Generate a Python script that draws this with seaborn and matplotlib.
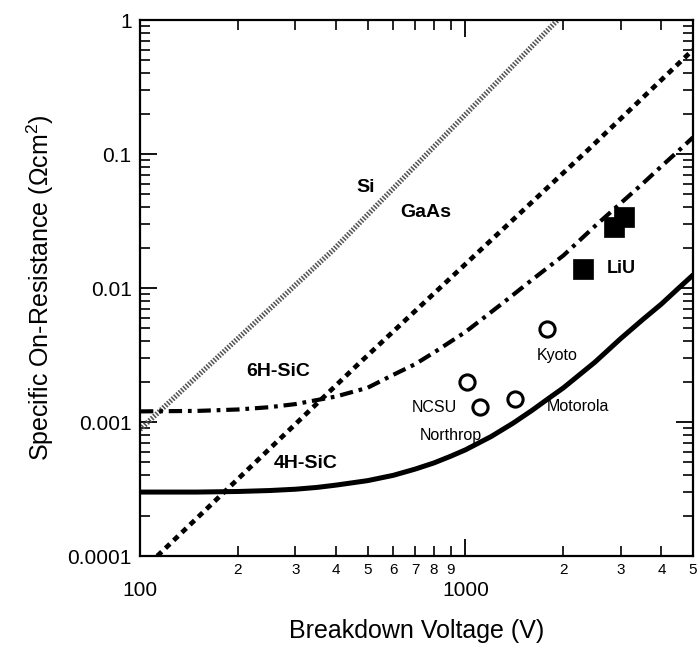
import matplotlib
matplotlib.use("Agg")
import matplotlib.pyplot as plt
import seaborn as sns
import pandas as pd
from matplotlib.ticker import LogLocator, FixedLocator, FixedFormatter, NullFormatter

# ---- data ----
si_v = [100, 392, 1919]
si_r = [0.00088, 0.0192, 1.0]

gaas_v = [113, 465, 1112, 2376, 5000]
gaas_r = [0.0001, 0.00266, 0.0192, 0.107, 0.6]

sic6h_v = [100, 150, 200, 250, 300, 400, 500, 600, 700, 800, 1000, 1300, 1600,
           2000, 2500, 3000, 3500, 4000, 4500, 5000]
sic6h_r = [0.0012, 0.00121, 0.00124, 0.00129, 0.00136, 0.00155, 0.0018, 0.00225,
           0.0027, 0.0033, 0.0047, 0.0077, 0.0115, 0.0175, 0.029, 0.043, 0.06,
           0.081, 0.105, 0.133]

sic4h_v = [100, 150, 200, 250, 300, 350, 400, 500, 600, 700, 800, 900, 1000, 1200,
           1400, 1600, 1800, 2000, 2500, 3000, 3500, 4000, 4500, 5000]
sic4h_r = [0.0003, 0.0003, 0.000303, 0.000308, 0.000315, 0.000325, 0.000338,
           0.000365, 0.0004, 0.000445, 0.000495, 0.000555, 0.00062, 0.00078,
           0.00098, 0.00122, 0.0015, 0.0018, 0.0028, 0.0042, 0.0058, 0.0076,
           0.0099, 0.0125]

circ_names = ["Kyoto", "NCSU", "Northrop", "Motorola"]
circ_v = [1775, 1014, 1112, 1415]
circ_r = [0.00494, 0.00199, 0.00129, 0.00149]

sq_v = [3064, 2853, 2291]
sq_r = [0.0339, 0.0285, 0.0139]

curve_labels = ["Si", "GaAs", "6H-SiC", "4H-SiC"]
curve_label_v = [493, 754, 266, 324]
curve_label_r = [0.0567, 0.0363, 0.0024, 0.00049]

minor_x = [200, 300, 400, 500, 600, 700, 800, 900, 2000, 3000, 4000, 5000]
minor_x_labels = ["2", "3", "4", "5", "6", "7", "8", "9", "2", "3", "4", "5"]
major_x = [100, 1000]
major_x_labels = ["100", "1000"]
major_y = [0.0001, 0.001, 0.01, 0.1, 1]
major_y_labels = ["0.0001", "0.001", "0.01", "0.1", "1"]

sns.set_theme(style="white")
plt.rcParams["font.family"] = ["Liberation Sans", "DejaVu Sans"]
plt.rcParams["mathtext.fontset"] = "custom"
plt.rcParams["mathtext.rm"] = "Liberation Sans"
plt.rcParams["mathtext.it"] = "Liberation Sans"
for k in ["text.color", "axes.labelcolor", "xtick.color", "ytick.color", "axes.edgecolor"]:
    plt.rcParams[k] = "black"

fig = plt.figure(figsize=(6.98, 6.46), dpi=100)
ax = fig.add_axes([140/698, 1-556/646, 553/698, 536/646])

df_si = pd.DataFrame({"V": si_v, "R": si_r})
df_ga = pd.DataFrame({"V": gaas_v, "R": gaas_r})
df_6h = pd.DataFrame({"V": sic6h_v, "R": sic6h_r})
df_4h = pd.DataFrame({"V": sic4h_v, "R": sic4h_r})

sns.lineplot(data=df_si, x="V", y="R", ax=ax, color="#555555", linewidth=3.8,
             estimator=None, sort=False)
ax.lines[-1].set_dashes([0.3, 0.3])
sns.lineplot(data=df_ga, x="V", y="R", ax=ax, color="black", linewidth=3.4,
             estimator=None, sort=False)
ax.lines[-1].set_dashes([1.3, 1.1])
sns.lineplot(data=df_6h, x="V", y="R", ax=ax, color="black", linewidth=3.0,
             estimator=None, sort=False)
ax.lines[-1].set_dashes([3.2, 1.4, 0.9, 1.4])
sns.lineplot(data=df_4h, x="V", y="R", ax=ax, color="black", linewidth=3.6,
             estimator=None, sort=False)

df_c = pd.DataFrame({"V": circ_v, "R": circ_r})
df_s = pd.DataFrame({"V": sq_v, "R": sq_r})
sns.scatterplot(data=df_c, x="V", y="R", ax=ax, marker="o", s=120,
                facecolor="white", edgecolor="black", linewidth=2.2, zorder=5)
sns.scatterplot(data=df_s, x="V", y="R", ax=ax, marker="s", s=220,
                color="black", edgecolor="black", linewidth=0.5, zorder=5)

ax.set_xscale("log")
ax.set_yscale("log")
ax.set_xlim(100, 5000)
ax.set_ylim(0.0001, 1)

for name, v, r in zip(curve_labels, curve_label_v, curve_label_r):
    ax.text(v, r, name, fontsize=14, fontweight="bold", ha="center", va="center")

pt_offsets = {"Kyoto": (1.08, 0.64), "NCSU": (0.79, 0.65), "Northrop": (0.81, 0.62), "Motorola": (1.57, 0.87)}
for name, v, r in zip(circ_names, circ_v, circ_r):
    fx, fy = pt_offsets[name]
    ax.text(v * fx, r * fy, name, fontsize=11.5, ha="center", va="center")
ax.text(3064 * 0.985, 0.0139, "LiU", fontsize=13, fontweight="bold", ha="center", va="center")

# ticks
ax.xaxis.set_major_locator(FixedLocator(major_x))
ax.xaxis.set_major_formatter(FixedFormatter(major_x_labels))
ax.xaxis.set_minor_locator(FixedLocator(minor_x))
ax.xaxis.set_minor_formatter(FixedFormatter(minor_x_labels))
ax.yaxis.set_major_locator(FixedLocator(major_y))
ax.yaxis.set_major_formatter(FixedFormatter(major_y_labels))
ax.yaxis.set_minor_locator(LogLocator(base=10, subs=range(2, 10), numticks=20))
ax.yaxis.set_minor_formatter(NullFormatter())

ax.tick_params(axis="both", which="major", direction="in", length=12, width=1.3,
               top=True, right=True, bottom=True, left=True, colors="black")
ax.tick_params(axis="both", which="minor", direction="in", length=7, width=1.2,
               top=True, right=True, bottom=True, left=True, colors="black")
ax.tick_params(axis="x", which="major", labelsize=15, pad=18)
ax.tick_params(axis="x", which="minor", labelsize=11, pad=5)
ax.tick_params(axis="y", which="major", labelsize=15, pad=6)

for sp in ax.spines.values():
    sp.set_color("black")
    sp.set_linewidth(1.6)

ax.set_xlabel("Breakdown Voltage (V)", fontsize=18, labelpad=14)
ax.set_ylabel("Specific On-Resistance ($\\Omega$cm$^2$)", fontsize=18, labelpad=8)

fig.savefig("out.png", dpi=100)
